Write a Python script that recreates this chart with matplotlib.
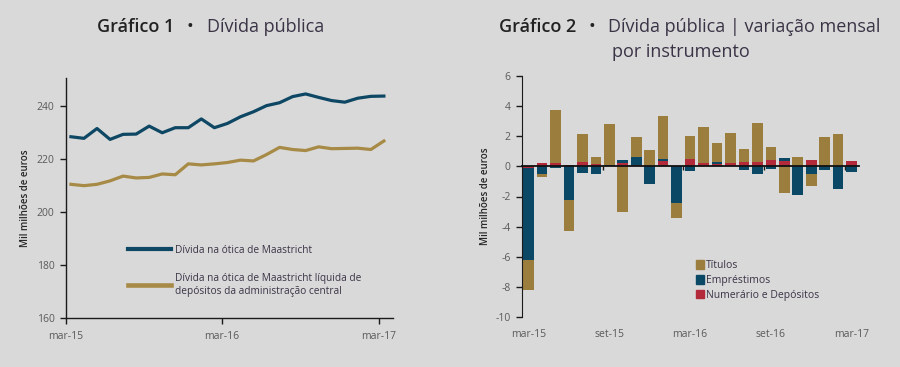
import numpy as np
import matplotlib
matplotlib.use("Agg")
import matplotlib.pyplot as plt
from matplotlib.lines import Line2D
from matplotlib.patches import Patch
import matplotlib.transforms as mtrans

plt.rcParams['font.family'] = ['Open Sans', 'DejaVu Sans']
plt.rcParams['axes.unicode_minus'] = False

# ---------------- data ----------------
months = ["mar-15", "abr-15", "mai-15", "jun-15", "jul-15", "ago-15", "set-15", "out-15",
          "nov-15", "dez-15", "jan-16", "fev-16", "mar-16", "abr-16", "mai-16", "jun-16",
          "jul-16", "ago-16", "set-16", "out-16", "nov-16", "dez-16", "jan-17", "fev-17", "mar-17"]

divida_maastricht = [228.3, 227.7, 231.4, 227.3, 229.2, 229.3, 232.3, 229.8, 231.7, 231.7,
                     235.0, 231.7, 233.3, 235.8, 237.7, 240.0, 241.1, 243.4, 244.4, 243.1,
                     241.9, 241.3, 242.8, 243.5, 243.6]
divida_liquida = [210.4, 209.9, 210.4, 211.7, 213.5, 212.8, 213.0, 214.3, 214.0, 218.1,
                  217.7, 218.1, 218.6, 219.5, 219.2, 221.6, 224.3, 223.5, 223.1, 224.5,
                  223.8, 223.9, 224.0, 223.5, 226.7]

# monthly change by instrument (mil milhões de euros)
numerario = [-0.13, 0.20, 0.20, 0.10, 0.29, 0.13, 0.00, 0.22, 0.10, 0.03,
             0.35, 0.00, 0.46, 0.20, 0.18, 0.20, 0.29, 0.29, 0.40, 0.35,
             0.05, 0.40, 0.00, 0.00, 0.33]
emprestimos = [-6.10, -0.50, -0.10, -2.20, -0.42, -0.50, 0.12, 0.18, 0.50, -1.19,
               0.15, -2.41, -0.31, 0.00, 0.12, 0.00, -0.24, -0.51, -0.20, 0.18,
               -1.92, -0.53, -0.24, -1.53, -0.35]
titulos = [-2.00, -0.20, 3.54, -2.07, 1.86, 0.51, 2.70, -3.05, 1.37, 1.08,
           2.84, -1.04, 1.55, 2.41, 1.27, 1.99, 0.86, 2.61, 0.86, -1.80,
           0.60, -0.75, 1.97, 2.12, 0.00]

bar_tick_labels = ["mar-15", "set-15", "mar-16", "set-16", "mar-17"]
line_tick_labels = ["mar-15", "mar-16", "mar-17"]

# ---------------- style ----------------
BG = "#d9d9d9"
C_BLUE_LINE = "#0e4764"
C_TAN_LINE = "#a78a45"
C_TAN = "#9b7d3d"
C_BLUE = "#0b4866"
C_RED = "#b32a3b"
TICK_C = "#5a5a5a"
TXT_C = "#3b3346"

fig = plt.figure(figsize=(9.0, 3.67), dpi=100, facecolor=BG)

# ---------------- titles ----------------
def ft(x, y):
    return x / 900.0, 1 - y / 367.0

fig.text(*ft(97, 32), "Gráfico 1", fontsize=13, fontweight="semibold", color="#222222", va="baseline")
fig.text(*ft(186, 32), "•", fontsize=13, color="#222222", va="baseline")
fig.text(*ft(207, 32), "Dívida pública", fontsize=13, color=TXT_C, va="baseline")

fig.text(*ft(499, 32), "Gráfico 2", fontsize=13, fontweight="semibold", color="#222222", va="baseline")
fig.text(*ft(589, 32), "•", fontsize=13, color="#222222", va="baseline")
fig.text(*ft(608, 32), "Dívida pública | variação mensal", fontsize=13, color=TXT_C, va="baseline")
fig.text(*ft(612, 57), "por instrumento", fontsize=13, color=TXT_C, va="baseline")

# ---------------- left chart ----------------
ax1 = fig.add_axes([65.7 / 900, 1 - 318.3 / 367, (393 - 65.7) / 900, (318.3 - 78) / 367])
ax1.set_facecolor(BG)
x = np.arange(len(months)) + 0.4
ax1.plot(x, divida_maastricht, color=C_BLUE_LINE, lw=2.3, solid_joinstyle="round")
ax1.plot(x, divida_liquida, color=C_TAN_LINE, lw=2.3, solid_joinstyle="round")
ax1.set_xlim(0, 25.1)
ax1.set_ylim(160, 250.4)
ax1.set_yticks([160, 180, 200, 220, 240])
ax1.set_xticks([0, 12, 24])
ax1.set_xticklabels(line_tick_labels)
for s in ["top", "right"]:
    ax1.spines[s].set_visible(False)
for s in ["left", "bottom"]:
    ax1.spines[s].set_color("#1a1a1a")
    ax1.spines[s].set_linewidth(1.0)
ax1.tick_params(axis="both", direction="out", length=4, width=1, color="#1a1a1a",
                labelsize=7.5, labelcolor=TICK_C)
ax1.tick_params(axis="x", pad=5)
ax1.tick_params(axis="y", pad=4)
ax1.set_ylabel("Mil milhões de euros", fontsize=7, fontweight="semibold",
               color="#262626", labelpad=4)

ax1.legend(
    [Line2D([], [], color=C_BLUE_LINE, lw=3), Line2D([], [], color=C_TAN_LINE, lw=3.3)],
    ["Dívida na ótica de Maastricht",
     "Dívida na ótica de Maastricht líquida de\ndepósitos da administração central"],
    loc="upper left", bbox_to_anchor=(0.19, 0.305), frameon=False, fontsize=7.3,
    borderpad=0, borderaxespad=0,
    handlelength=4.3, handletextpad=0.3, labelspacing=1.67, labelcolor=TXT_C)

# ---------------- right chart ----------------
ax2 = fig.add_axes([521.8 / 900, 1 - 317 / 367, (859 - 521.8) / 900, (317 - 76) / 367])
ax2.set_facecolor(BG)
n = len(months)
xb = np.arange(n)
w = 0.79
pos_bottom = np.zeros(n)
neg_bottom = np.zeros(n)
for vals, col in [(numerario, C_RED), (emprestimos, C_BLUE), (titulos, C_TAN)]:
    v = np.array(vals)
    pos = np.where(v > 0, v, 0)
    neg = np.where(v < 0, v, 0)
    ax2.bar(xb, pos, w, bottom=pos_bottom, color=col, edgecolor="none", zorder=2)
    ax2.bar(xb, neg, w, bottom=neg_bottom, color=col, edgecolor="none", zorder=2)
    pos_bottom += pos
    neg_bottom += neg

ax2.set_xlim(-0.5, 24.55)
ax2.set_ylim(-10, 6)
ax2.set_yticks(np.arange(-10, 7, 2))
for s in ["top", "right"]:
    ax2.spines[s].set_visible(False)
ax2.spines["left"].set_color("#1a1a1a")
ax2.spines["bottom"].set_position(("data", 0))
ax2.spines["bottom"].set_color("#111111")
ax2.spines["bottom"].set_linewidth(1.3)
ax2.spines["bottom"].set_zorder(3)
ax2.set_xticks([5.5, 11.5, 17.5, 23.5])
ax2.set_xticklabels([])
ax2.tick_params(axis="x", direction="out", length=3, width=1, color="#1a1a1a")
ax2.tick_params(axis="y", direction="out", length=4, width=1, color="#1a1a1a",
                labelsize=7.5, labelcolor=TICK_C, pad=4)
trans = mtrans.blended_transform_factory(ax2.transData, ax2.transAxes)
for i, lab in zip([0, 6, 12, 18, 24], bar_tick_labels):
    ax2.text(i, -0.072, lab, transform=trans, ha="center", va="center",
             fontsize=7.5, color=TICK_C)
ax2.set_ylabel("Mil milhões de euros", fontsize=7, fontweight="semibold",
               color="#262626", labelpad=3)

ax2.legend([Patch(color=C_TAN), Patch(color=C_BLUE), Patch(color=C_RED)],
           ["Títulos", "Empréstimos", "Numerário e Depósitos"],
           loc="upper left", bbox_to_anchor=(0.49, 0.274), frameon=False, fontsize=7.5,
           handlelength=0.75, handleheight=0.9, handletextpad=0.15, labelspacing=0.35,
           labelcolor=TXT_C)

fig.savefig("out.png", dpi=100, facecolor=BG)
